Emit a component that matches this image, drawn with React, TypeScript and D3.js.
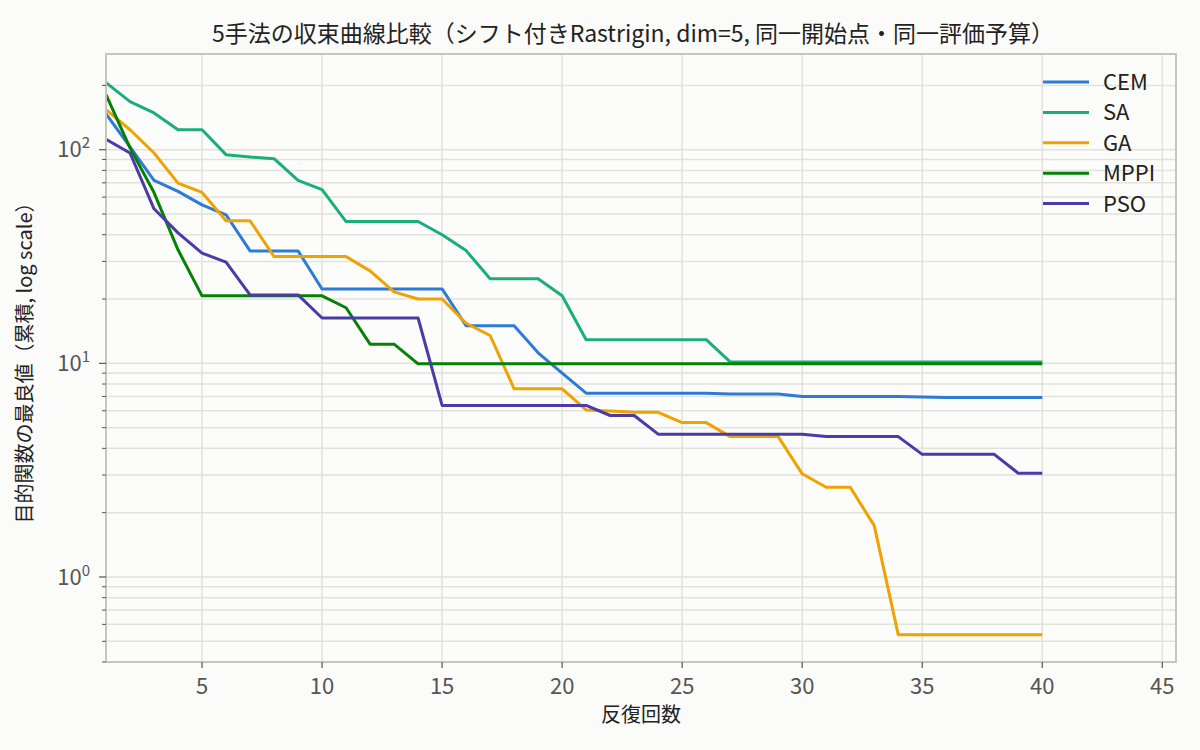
import * as React from "react";
import * as d3 from "d3";

// best-so-far objective per iteration (1..40)
const iterations = d3.range(1, 41);

const cemValues = [
  147, 103, 71.8, 63.8, 55.2, 49.6, 33.6, 33.6, 33.6, 22.3,
  22.3, 22.3, 22.3, 22.3, 22.3, 15.0, 15.0, 15.0, 11.2, 9.0,
  7.25, 7.25, 7.25, 7.25, 7.25, 7.25, 7.18, 7.18, 7.18, 7.0,
  7.0, 7.0, 7.0, 7.0, 6.95, 6.92, 6.92, 6.92, 6.92, 6.92,
];
const saValues = [
  206, 168, 148.6, 124, 124, 94.8, 92.4, 90.8, 71.8, 65,
  46.1, 46.1, 46.1, 46.1, 40, 33.7, 24.9, 24.9, 24.9, 20.7,
  12.9, 12.9, 12.9, 12.9, 12.9, 12.9, 10.15, 10.15, 10.15, 10.15,
  10.15, 10.15, 10.15, 10.15, 10.15, 10.15, 10.15, 10.15, 10.15, 10.15,
];
const gaValues = [
  154, 124, 96.5, 69.8, 63.1, 46.5, 46.5, 31.6, 31.6, 31.6,
  31.6, 27.1, 21.6, 20.0, 20.0, 15.4, 13.5, 7.6, 7.6, 7.6,
  6.05, 5.98, 5.9, 5.9, 5.28, 5.28, 4.54, 4.54, 4.54, 3.04,
  2.63, 2.63, 1.74, 0.537, 0.537, 0.537, 0.537, 0.537, 0.537, 0.537,
];
const mppiValues = [
  181, 102, 63, 34, 20.7, 20.7, 20.7, 20.7, 20.7, 20.7,
  18.2, 12.3, 12.3, 9.95, 9.95, 9.95, 9.95, 9.95, 9.95, 9.95,
  9.95, 9.95, 9.95, 9.95, 9.95, 9.95, 9.95, 9.95, 9.95, 9.95,
  9.95, 9.95, 9.95, 9.95, 9.95, 9.95, 9.95, 9.95, 9.95, 9.95,
];
const psoValues = [
  112, 96.5, 52.9, 40.8, 32.8, 29.8, 20.9, 20.9, 20.9, 16.3,
  16.3, 16.3, 16.3, 16.3, 6.35, 6.35, 6.35, 6.35, 6.35, 6.35,
  6.35, 5.7, 5.7, 4.66, 4.66, 4.66, 4.66, 4.66, 4.66, 4.66,
  4.54, 4.54, 4.54, 4.54, 3.75, 3.75, 3.75, 3.75, 3.06, 3.06,
];

const methods = ["CEM", "SA", "GA", "MPPI", "PSO"];
const seriesValues = [cemValues, saValues, gaValues, mppiValues, psoValues];
const colors = ["#2e7bd6", "#1aae7b", "#f0a202", "#058205", "#4b3aa8"];

const xTicks = [5, 10, 15, 20, 25, 30, 35, 40, 45];
const yMajor = [0, 1, 2]; // exponents

const font = "'Noto Sans CJK JP', 'Noto Sans', sans-serif";

export default function App() {
  const width = 1200;
  const height = 750;
  const margin = { top: 54, right: 24, bottom: 88, left: 106 };
  const innerW = width - margin.left - margin.right;
  const innerH = height - margin.top - margin.bottom;

  const x = d3.scaleLinear().domain([1, 45.57]).range([0, innerW]);
  const y = d3
    .scaleLog()
    .domain([Math.pow(10, -0.398), Math.pow(10, 2.448)])
    .range([innerH, 0]);

  const [yMin, yMax] = y.domain();
  const minorTicks: number[] = [];
  for (let e = -1; e <= 2; e++) {
    for (let m = 2; m <= 9; m++) {
      const v = m * Math.pow(10, e);
      if (v >= yMin && v <= yMax) minorTicks.push(v);
    }
  }

  const line = d3
    .line<number>()
    .x((_, i) => x(iterations[i]))
    .y((d) => y(d));

  const gridColor = "#e2e2db";
  const spineColor = "#c6c6bd";
  const tickColor = "#555555";

  return (
    <svg
      width={width}
      height={height}
      style={{ position: "absolute", left: 0, top: 0, background: "#fbfbf9" }}
      fontFamily={font}
    >
      <rect width={width} height={height} fill="#fbfbf9" />
      <text
        x={margin.left + innerW / 2 - 8}
        y={42}
        textAnchor="middle"
        fontSize={23}
        fill="#222"
      >
        5手法の収束曲線比較（シフト付きRastrigin, dim=5, 同一開始点・同一評価予算）
      </text>
      <g transform={`translate(${margin.left},${margin.top})`}>
        <rect width={innerW} height={innerH} fill="#fcfcfa" />
        {/* grid */}
        {minorTicks.map((v) => (
          <line
            key={`gm${v}`}
            x1={0}
            x2={innerW}
            y1={y(v)}
            y2={y(v)}
            stroke={gridColor}
            strokeWidth={1.5}
          />
        ))}
        {yMajor.map((e) => (
          <line
            key={`gM${e}`}
            x1={0}
            x2={innerW}
            y1={y(Math.pow(10, e))}
            y2={y(Math.pow(10, e))}
            stroke={gridColor}
            strokeWidth={1.5}
          />
        ))}
        {xTicks.map((t) => (
          <line
            key={`gx${t}`}
            x1={x(t)}
            x2={x(t)}
            y1={0}
            y2={innerH}
            stroke={gridColor}
            strokeWidth={1.5}
          />
        ))}
        {/* series */}
        <defs>
          <clipPath id="plotClip">
            <rect width={innerW} height={innerH} />
          </clipPath>
        </defs>
        <g clipPath="url(#plotClip)">
          {seriesValues.map((vals, i) => (
            <path
              key={methods[i]}
              d={line(vals) || ""}
              fill="none"
              stroke={colors[i]}
              strokeWidth={3}
              strokeLinejoin="round"
            />
          ))}
        </g>
        {/* frame */}
        <rect
          width={innerW}
          height={innerH}
          fill="none"
          stroke={spineColor}
          strokeWidth={2}
        />
        {/* x axis ticks */}
        {xTicks.map((t) => (
          <g key={`xt${t}`} transform={`translate(${x(t)},${innerH})`}>
            <line y1={0} y2={6} stroke={tickColor} strokeWidth={1.2} />
            <text
              y={32}
              textAnchor="middle"
              fontSize={22}
              fill={tickColor}
            >
              {t}
            </text>
          </g>
        ))}
        {/* y axis ticks */}
        {minorTicks.map((v) => (
          <line
            key={`ym${v}`}
            x1={-4}
            x2={0}
            y1={y(v)}
            y2={y(v)}
            stroke={tickColor}
            strokeWidth={1}
          />
        ))}
        {yMajor.map((e) => (
          <g key={`yt${e}`} transform={`translate(0,${y(Math.pow(10, e))})`}>
            <line x1={-7} x2={0} stroke={tickColor} strokeWidth={1.2} />
            <text
              x={-16}
              dy="0.35em"
              textAnchor="end"
              fontSize={22}
              fill={tickColor}
            >
              10
              <tspan fontSize={15} dy="-0.6em">
                {e}
              </tspan>
            </text>
          </g>
        ))}
        {/* axis labels */}
        <text
          x={innerW / 2}
          y={innerH + 60}
          textAnchor="middle"
          fontSize={20}
          fill="#222"
        >
          反復回数
        </text>
        <text
          transform={`translate(${-74},${innerH / 2}) rotate(-90)`}
          textAnchor="middle"
          fontSize={20}
          fill="#222"
        >
          目的関数の最良値（累積, log scale）
        </text>
        {/* legend */}
        <g transform={`translate(${1043 - margin.left},${82 - margin.top})`}>
          {methods.map((m, i) => (
            <g key={`lg${m}`} transform={`translate(0,${i * 30.4})`}>
              <line x1={0} x2={46} stroke={colors[i]} strokeWidth={3} />
              <text x={60} dy="0.36em" fontSize={22} fill="#222">
                {m}
              </text>
            </g>
          ))}
        </g>
      </g>
    </svg>
  );
}
